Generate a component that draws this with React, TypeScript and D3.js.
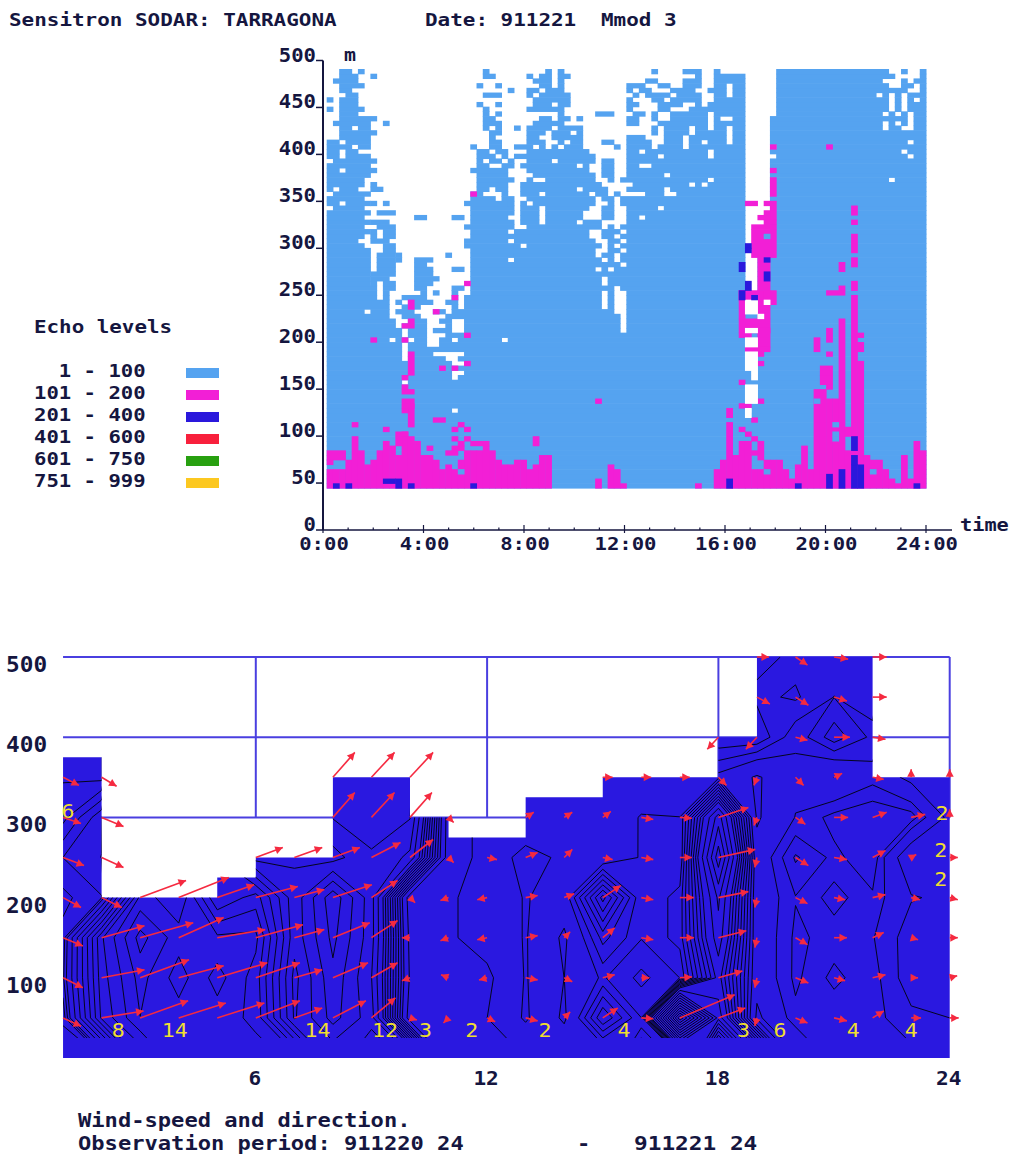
import React from 'react';
import * as d3 from 'd3';

// ---------- Echo data (SODAR range gates: gate k = 50 + 5k metres, column = 15 min) ----------
const lightRows: string[] = [
  "2-3,5,25,35,37,52,57-59,62,72-89,92,95",
  "2-4,7,25-26,32,34-35,37-38,59,62-66,72-90,95",
  "1-4,33-35,37,51-52,57-59,62-66,72-88,92,94-95",
  "2-5,24,27,34-35,37,48-50,53-54,57-59,62-63,65-66,72-89,92-93,95",
  "2-3,29,32-33,35-37,48,50-51,55-58,61-63,65-66,72-92,95",
  "3-4,25-27,32,34-38,49,51-54,56-59,62-63,65-66,72-87,89,91,93-95",
  "0,2-4,33-38,48,52-53,55-59,62-66,72-89,91,93,95",
  "2-4,24,27,33-35,37-38,48-49,53-56,59,61-66,72-89,91,93-95",
  "0,2-5,25,32-37,48,53-54,58-66,72-89,91,93-95",
  "2-4,25,27,37,43-45,49-50,52,55-60,62-66,72-88,90,92,94-95",
  "2-7,25-26,34-35,37-38,40,48-49,52,55-60,62,65-66,71-92,94-95",
  "1-6,9,25-27,33-37,48-49,53-60,62-66,71-88,90,92,94-95",
  "2-3,5-6,25,27,30,32-35,37-40,52,54-57,59-60,62-63,65-66,71-88,90-91,94-95",
  "2-7,26-27,32-34,36-38,40,52,54-57,59-63,65-66,71-95",
  "2-6,26,32-33,36-40,48-50,54-56,58-63,65-66,71-95",
  "0-1,3-6,26-27,32-34,37,39-40,44-45,48-51,54-56,58-59,61-63,65-66,71-92,94-95",
  "0-3,5-6,23,26-27,30-32,34,36,38-40,46,48-51,53-56,58-66,72-95",
  "0-1,3-4,24-25,27-28,32-41,48-49,51-60,62-66,71-91,93-95",
  "0-1,3-6,24-26,28,30-31,32-42,48-52,54-60,62-66,72-92,94-95",
  "1-7,24,26-27,29,32-35,37-42,44-45,48-66,71-95",
  "0-6,24-25,28-29,31-39,41,44-45,48-49,52-66,71-95",
  "0-1,3-7,23-28,32-41,44-45,48-66,71-95",
  "0-6,24-28,33-42,44-45,48-53,55-66,71-95",
  "0-5,24-29,32,35-42,45,47-60,62-66,71-89,91-95",
  "0-5,7,24-28,31-43,49-57,59,61-66,71-95",
  "0,2-4,7-8,24-25,27-28,31-39,41-44,48-53,55-66,71-95",
  "1-6,23-24,28,31-33,35-41,43-44,46,51-53,56-66,71-95",
  "0-5,23-26,28-29,32-42,44-45,47-66,71-95",
  "0-1,3-6,7,9,22-28,29,31,33-42,45,47-66,71-95",
  "1-5,23-29,31-33,35-41,44-45,48-52,54-66,71-95",
  "0-6,8-10,23-28,29,31-33,35-40,44-45,48-66,71-95",
  "0-5,14-15,20-21,23-28,31-33,35-40,44-45,48-49,51-66,71-95",
  "0-6,7-9,23-29,31-33,35-39,41-43,48-66,71-95",
  "0-5,8-10,22-29,32-40,41-43,45,47-66,71-95",
  "0-6,7,9-10,23-28,30-33,34-41,44-46,48-66,71-95",
  "0-5,7,9-10,23-41,44-45,47-66,71-95",
  "0-4,7-9,22-28,30-42,45-46,48-66,71-95",
  "0-5,9-10,22-29,30,32-43,45,47-66,71-95",
  "0-6,9-10,23-42,45-46,48-66,71-95",
  "0-6,8-10,11,19,23-29,30-42,44-45,47-66,71-95",
  "0-6,8-10,11,14-16,23-28,30-43,45,47-66,69-95",
  "0-6,8-10,14-15,23-46,48-66,69-95",
  "0-6,8-10,14-16,20-21,23-42,44,46-66,69-95",
  "0-6,7-10,14-16,23-44,45-66,69-95",
  "0-6,7-9,14-17,23-43,45-66,69-95",
  "0-6,7,9-10,14-16,23-43,45-66,69-95",
  "0-7,9-10,14-15,20-21,23-45,47-66,69-95",
  "0-7,9,15,17,20,23-43,45,48-66,69-95",
  "0-7,9,12-15,20,22-43,45,48-66,69-95",
  "0-9,11,13-16,19-20,22-43,45,48-66,69,71-95",
  "0-9,12-14,20,22-43,45,48-66,69-95",
  "0-5,7-9,11-13,17-18,20-45,48-66,69-95",
  "0-9,12-14,19-46,48-68,70-95",
  "0-10,13-15,18-19,22-46,48-95",
  "0-10,12-15,19,22-46,48-95",
  "0-11,13-15,17-19,22-46,48-66,69-95",
  "0-11,13-15,19-95",
  "0-9,11-12,14-15,18-19,21-27,29-66,69-95",
  "0-11,13-15,18-66,69-95",
  "0-11,13-66,69-95",
  "0-11,13-16,22-66,69-95",
  "0-11,13-18,21-66,69-95",
  "0-19,22-66,69-95",
  "0-66,69-95",
  "0-19,22-67,69-95",
  "0-19,21-67,69-95",
  "0-11,13-95",
  "0-66,69-95",
  "0-66,69-95",
  "0-66,69-95",
  "0-66,69-95",
  "0-95",
  "0-19,21-66,68-95",
];
const gateCount = 89;
const colCount = 96;

// Contiguous 101-200 echo depth from the lowest gate, per column
const pinkDepth = [
  4,4,4,6,11,8,5,6,8,10,9,7,12,11,10,7,7,6,4,5,4,6,8,8,8,9,8,6,5,5,6,6,4,5,7,7,
  0,0,0,0,0,0,0,2,0,5,4,1,0,0,0,0,0,0,0,0,0,0,0,1,0,0,4,6,14,7,10,10,4,4,6,6,6,4,2,5,9,4,
  21,21,19,19,36,8,41,20,7,6,6,4,2,1,7,2,10,8,
];
// Isolated 101-200 patches: [col from, col to, gate from, gate to]
const pinkPatches: number[][] = [
  [0,2,6,7],[0,0,5,5],[4,4,13,13],[9,9,12,12],[11,12,11,11],[11,11,9,10],[16,16,8,8],[19,20,7,7],[20,21,8,8],
  [20,20,10,10],[21,21,9,9],[22,22,10,10],[21,21,13,13],[20,20,12,12],[22,22,12,12],[23,25,9,9],[33,33,9,10],
  [17,18,14,14],[13,13,13,17],[12,12,16,16],[12,13,17,18],[12,12,21,21],[12,13,20,20],[13,13,24,28],[12,12,23,23],
  [7,7,31,31],[12,12,31,31],[12,13,34,34],[13,13,35,35],[13,13,38,39],[17,17,37,37],[20,20,40,40],[22,22,32,32],
  [18,18,25,25],[20,20,25,25],[22,22,26,26],[43,43,18,18],[23,23,62,62],[22,22,43,43],
  [64,64,15,16],[66,67,17,17],[69,69,18,18],[68,68,14,14],[66,66,12,12],[67,67,11,11],[68,68,10,10],[68,68,7,7],[69,69,6,9],
  [66,70,33,35],[69,70,30,33],[66,67,32,32],[67,70,29,29],[69,69,28,28],[69,69,26,26],[66,66,22,22],
  [66,66,36,41],[69,70,36,41],[70,71,39,41],[71,71,72,72],[80,80,72,72],[71,71,67,67],[71,71,62,65],[71,71,57,60],[67,68,60,60],[70,70,60,60],
  [70,70,57,58],[69,69,57,57],[70,71,56,56],[68,71,55,55],[68,71,49,54],[69,70,42,48],[66,68,40,41],
  [78,78,29,31],[80,80,31,33],[80,80,28,28],[79,80,24,25],[79,80,22,23],[80,80,21,21],[80,82,41,41],[82,82,42,42],[82,82,46,47],
  [84,84,58,59],[84,84,56,56],[84,84,50,53],[84,84,47,48],[84,84,42,43],[85,85,32,32],[85,85,29,30],[85,85,20,26],[83,83,11,12],
];
// Cells inside the pink that read as 1-100 again
const pinkGaps: number[][] = [[21,3],[70,3],[87,3],[78,18],[81,13],[81,10],[81,11],[70,53]];
// Missing echoes left inside the 101-200 column: [col from, col to, gate from, gate to]
const gapWhites: number[][] = [[67,68,37,39],[69,69,36,36],[70,70,39,39],[67,68,33,33],[67,68,30,31],[67,68,25,28],[68,68,23,24],[67,68,18,21],[67,67,15,16]];
// 201-400 echo: [col from, col to, gate from, gate to]
const darkPatches: number[][] = [
  [1,1,0,0],[3,3,0,0],[9,10,1,1],[11,11,0,1],[13,13,0,0],[23,23,0,0],[64,64,0,1],[75,75,0,0],[80,80,0,2],[82,82,0,3],
  [84,84,0,4],[84,84,5,6],[84,84,8,10],[85,85,0,4],[94,94,0,0],[67,67,51,51],[67,67,50,50],[70,70,48,48],[66,66,46,47],
  [70,70,44,45],[67,67,42,43],[66,66,40,41],[68,68,40,40],
];

const legendRows = ["  1 - 100", "101 - 200", "201 - 400", "401 - 600", "601 - 750", "751 - 999"];
const legendColors = ["#55a3f0", "#f21fd6", "#2a18dc", "#f8203c", "#28a010", "#fcc820"];
const echoTicks = d3.range(0, 501, 50);
const timeHours = d3.range(0, 25);
const timeLabels = [0, 4, 8, 12, 16, 20, 24];

// ---------- Wind data: [u, v] in m/s per hour 1..24, one list per height ----------
type W = number[] | null;
const _: W = null;
const wind500: W[] = [_,_,_,_,_,_,_,_,_,_,_,_,_,_,_,_,_,_,[4,0],[4,-2.7],[4.7,-0.7],[4.7,0],_,_];
const wind450: W[] = [_,_,_,_,_,_,_,_,_,_,_,_,_,_,_,_,_,_,[4.3,-2.3],[4.3,-2.7],[4.3,-1.3],[4.7,0],_,_];
const wind400: W[] = [_,_,_,_,_,_,_,_,_,_,_,_,_,_,_,_,_,[-3.7,-4],[-3.7,-4],[4,-1],[5.3,0],[4.3,-0.7],_,_];
const wind350: W[] = [[5.3,-2.7],[5,-3],_,_,_,_,_,[7.3,8.3],[7.7,8.3],[7.7,8.3],_,_,_,_,[3.3,0],[3.3,0],[3.3,0],[2.7,-2.7],[-1,-2.7],[2.7,-2.7],[2.7,1.3],[3.7,-0.7],[0,2.7],[0,2.7]];
const wind300: W[] = [[6,-2],[7.3,-3],_,_,_,_,_,[7.3,8.3],[7.7,8.3],[7.3,8.3],[1.7,-1.7],_,[2.7,1.7],[2.7,1.7],[2.7,2],[4,-0.7],[4,-0.3],[10,3.3],[-1,-2.7],[3.3,-2.3],[4.7,0],[4.7,1.7],[4.7,1],[0,2.7]];
const wind250: W[] = [[7,-2.7],[7.3,-3.3],_,_,_,[9,3.3],[9.3,3.3],[9,3.3],[9.7,5],[7.7,6],[1.7,-1.7],[3.3,-0.7],[4,1.7],[2.7,2.7],[3.3,-0.7],[4,-0.7],[4,0],[12.3,2.7],[-0.7,-3.3],[4.3,-2.7],[4.3,-0.7],[4.3,2.3],[1.7,1],[2.7,0]];
const wind200: W[] = [[6,-3.3],[6.7,-3.3],[15.3,5.7],[16.7,6.7],[12.3,4.3],[14,3.7],[10,2.7],[13,4.3],[8.7,5.7],[1.7,-1.7],[-2.7,-1],[-3.3,-0.7],[4,0.7],[3.3,1.3],[6,4],[4,-0.7],[4.7,0],[10,2],[-0.7,-3.3],[4,-2],[3.7,-0.7],[4.3,1],[3,-0.7],[2.7,-0.7]];
const wind150: W[] = [[6.6,-2.8],[14.3,4],[17.7,5],[15,6.7],[16,2.7],[15.7,4.3],[10,2.7],[12.3,5],[8.7,5.7],[-2.7,0],[-2.7,-1],[-3.3,-0.7],[4,0.7],[2,2],[4,3.3],[4,-0.7],[4.7,0],[9.3,2.3],[-0.7,-3.3],[4,-2.3],[4.3,0],[3.7,1.7],[2.3,-0.7],[2.7,0]];
const wind100: W[] = [[6.6,-3.3],[14.3,2.7],[16.3,6],[15,4],[16.7,5],[14.7,5],[9.3,2.7],[11.7,5],[8.7,5],[-2.7,-1],[-2.5,1],[-2.7,-0.7],[4,-0.7],[2.7,-1.3],[4,1],[2.7,0],[4,0.3],[8,2.3],[-0.7,-3.3],[4.3,-1.7],[3.7,-1],[4.3,1],[2.3,0],[2.5,0.7]];
const wind50: W[] = [[6,-2.8],[14,2.3],[16,5.7],[15.7,5],[15.7,5],[14.7,5.7],[9.3,3.3],[11,5.7],[8,6.7],[2.3,-0.7],[-1.7,-1.7],[2.7,-1.3],[4,-1],[2,2],[5,3.3],[4,-0.3],[18.3,7.7],[9,3.3],[-0.7,-2.7],[4,-1.7],[4.3,-1],[3.7,2.3],[3.3,0],[3,0]];
const windRows: W[][] = [wind500, wind450, wind400, wind350, wind300, wind250, wind200, wind150, wind100, wind50];
const windHeights = [500, 450, 400, 350, 300, 250, 200, 150, 100, 50];
// Speed just above the ground, as the contours run out below the lowest gate
const groundSpeed = [6,6.5,14,17,16.5,16.4,15.8,10,12.4,10.4,2.4,2.4,3,4,3,6,4,19.8,9.6,2.8,4.3,4.4,4.4,3.3];
// Highest valid height per hour span: [from, to, height]
const ceilings: number[][] = [[1,2,375],[2,5,200],[5,6,225],[6,8,250],[8,10,350],[10,11,300],[11,13,275],[13,15,325],[15,18,350],[18,19,400],[19,22,500],[22,24,350]];
const contourLevels = [1, 2, 3, 4, 4.5, 5, 5.5, 6, 6.5, 7, 7.5, 8, 9, 10, 11, 12, 13, 14, 15, 16, 17, 18, 19, 20, 21, 22];
const gridHeights = [300, 400, 500];
const gridHours = [6, 12, 18, 24];
const axisHeights = [100, 200, 300, 400, 500];
const labelTexts = ["8","14","14","12","3","2","2","4","3","6","4","4","6","2","2","2"];
const labelHours = [2.43,3.9,7.6,9.35,10.4,11.6,13.5,15.55,18.65,19.6,21.5,23,1.13,23.8,23.77,23.77];
const labelMetres = [26,26,26,26,26,26,26,26,26,26,26,26,299,297,251,214];

const FONT = "'DejaVu Sans Mono', monospace";
const INK = "#15163f";

function Txt({ x, y, s, cw, size = 18, anchor = 'start', fill = INK, weight = 700 }: any) {
  const w = s.length * cw;
  const left = anchor === 'middle' ? x - w / 2 : anchor === 'end' ? x - w : x;
  return (
    <text x={left} y={y} fontFamily={FONT} fontSize={size} fontWeight={weight} fill={fill}
      textLength={w} lengthAdjust="spacingAndGlyphs" style={{ whiteSpace: 'pre' }}>{s}</text>
  );
}

function parseRuns(s: string): number[][] {
  return s.split(',').map((p) => {
    const [a, b] = p.split('-').map(Number);
    return [a, b === undefined ? a : b];
  });
}

function EchoChart() {
  const col = d3.scaleBand<number>().domain(d3.range(colCount)).range([326.7, 926]);
  const gate = d3.scaleBand<number>().domain(d3.range(gateCount)).range([488, 69]);
  const time = d3.scaleLinear().domain([0, 24]).range([323, 926]);
  const hgt = d3.scaleLinear().domain([0, 500]).range([530, 60.5]);
  const cw = col.bandwidth();
  const rh = gate.bandwidth();
  const cell = (c0: number, c1: number, k0: number, k1: number, fill: string, key: string) => (
    <rect key={key} x={col(c0)} width={(c1 - c0 + 1) * cw + 0.5} y={gate(k1)} height={(k1 - k0 + 1) * rh + 0.6} fill={fill} />
  );
  const rects: React.ReactNode[] = [];
  for (let k = 0; k < gateCount; k++) {
    const t = gateCount - 1 - k;
    const row = t < lightRows.length ? lightRows[t] : "0-95";
    parseRuns(row).forEach(([a, b], i) => rects.push(cell(a, b, k, k, legendColors[0], `l${k}-${i}`)));
  }
  pinkDepth.forEach((n, c) => { if (n > 0) rects.push(cell(c, c, 0, n - 1, legendColors[1], `pd${c}`)); });
  pinkPatches.forEach(([a, b, k0, k1], i) => rects.push(cell(a, b, k0, k1, legendColors[1], `pp${i}`)));
  pinkGaps.forEach(([c, k], i) => rects.push(cell(c, c, k, k, legendColors[0], `pg${i}`)));
  gapWhites.forEach(([a, b, k0, k1], i) => rects.push(cell(a, b, k0, k1, '#fff', `gw${i}`)));
  darkPatches.forEach(([a, b, k0, k1], i) => rects.push(cell(a, b, k0, k1, legendColors[2], `dp${i}`)));
  return (
    <g>
      {rects}
      <line x1={time(0)} x2={time(0)} y1={hgt(500)} y2={hgt(0)} stroke={INK} strokeWidth={2} />
      <line x1={time(0)} x2={952} y1={hgt(0)} y2={hgt(0)} stroke={INK} strokeWidth={1.5} />
      {echoTicks.map((v) => (
        <g key={v}>
          <line x1={time(0) - 7} x2={time(0)} y1={hgt(v)} y2={hgt(v)} stroke={INK} strokeWidth={1.5} />
          <Txt x={316} y={hgt(v) + 1} s={String(v)} cw={12.4} size={19} anchor="end" />
        </g>
      ))}
      {timeHours.map((h) => (
        <line key={h} x1={time(h)} x2={time(h)} y1={hgt(0) - (h % 4 === 0 ? 5 : 2.5)} y2={hgt(0) + (h % 4 === 0 ? 3 : 0)} stroke={INK} strokeWidth={1.2} />
      ))}
      {timeLabels.map((h) => (
        <Txt key={h} x={time(h) + 1} y={550} s={`${h}:00`} cw={12.4} size={18} anchor="middle" />
      ))}
      <Txt x={344} y={61} s="m" cw={12} size={18} />
      <Txt x={960} y={531} s="time" cw={12.2} size={18} />
    </g>
  );
}

function WindChart() {
  const x = d3.scaleLinear().domain([0, 24]).range([24.5, 949.7]);
  const y = d3.scaleLinear().domain([0, 500]).range([1058, 657]);
  const arrowPx = 3;
  const poly = (floor: number) => {
    const pts: number[][] = [[x(1), y(floor)]];
    ceilings.forEach(([a, b, h]) => { pts.push([x(a), y(h)]); pts.push([x(b), y(h)]); });
    pts.push([x(24), y(floor)]);
    return 'M' + pts.map((p) => p.join(',')).join('L') + 'Z';
  };
  // Speed field: null nodes take the nearest valid speed below them
  const field: number[] = [];
  windRows.forEach((row, r) => {
    row.forEach((_w, c) => {
      let rr = r;
      while (windRows[rr][c] === null && rr < windRows.length - 1) rr++;
      const w = windRows[rr][c] as number[];
      field.push(Math.hypot(w[0], w[1]));
    });
  });
  groundSpeed.forEach((v) => field.push(v));
  const contours = d3.contours().size([24, 11]).thresholds(contourLevels)(field);
  const cx = (c: number) => x(c + 0.5);
  const cy = (r: number) => y(500 - 50 * (r - 0.5));
  const contourPath = (mp: any) => mp.coordinates.map((polyg: number[][][]) => polyg.map((ring) =>
    'M' + ring.map(([a, b]) => `${cx(a).toFixed(1)},${cy(b).toFixed(1)}`).join('L')).join('')).join('');
  return (
    <g>
      <defs>
        <clipPath id="contourClip"><path d={poly(25)} /></clipPath>
      </defs>
      {gridHeights.map((h) => (
        <line key={h} x1={x(1)} x2={x(24)} y1={y(h)} y2={y(h)} stroke="#4a3fe0" strokeWidth={2} />
      ))}
      {gridHours.map((h) => (
        <line key={h} x1={x(h)} x2={x(h)} y1={y(500)} y2={y(300)} stroke="#4a3fe0" strokeWidth={2} />
      ))}
      <path d={poly(0)} fill="#2a18e0" />
      <g clipPath="url(#contourClip)">
        {contours.map((c: any, i: number) => (
          <path key={i} d={contourPath(c)} fill="none" stroke="#05051e" strokeWidth={1} />
        ))}
      </g>
      {windRows.map((row, r) => row.map((w, c) => {
        if (!w) return null;
        const x0 = x(c + 1), y0 = y(windHeights[r]);
        const dx = w[0] * arrowPx, dy = -w[1] * arrowPx;
        const len = Math.hypot(dx, dy) || 1;
        const ux = dx / len, uy = dy / len;
        const x1 = x0 + dx, y1 = y0 + dy;
        const hl = 7.5, hw = 4;
        const b = [x1 - ux * hl, y1 - uy * hl];
        return (
          <g key={`${r}-${c}`}>
            <line x1={x0} y1={y0} x2={x1} y2={y1} stroke="#f52a40" strokeWidth={1.6} />
            <polygon points={`${x1},${y1} ${b[0] - uy * hw},${b[1] + ux * hw} ${b[0] + uy * hw},${b[1] - ux * hw}`} fill="#f52a40" />
          </g>
        );
      }))}
      {labelTexts.map((s, i) => (
        <Txt key={i} x={x(labelHours[i])} y={y(labelMetres[i])} s={s} cw={13} size={20} anchor="middle" fill="#f0de30" weight={400} />
      ))}
      {axisHeights.map((h) => (
        <Txt key={h} x={6} y={y(h) + 15} s={String(h)} cw={13.7} size={21} />
      ))}
      {gridHours.map((h) => (
        <Txt key={h} x={x(h) - 1} y={1085} s={String(h)} cw={12.7} size={20} anchor="middle" />
      ))}
    </g>
  );
}

export default function App() {
  return (
    <svg width={1012} height={1156} viewBox="0 0 1012 1156" style={{ position: 'absolute', left: 0, top: 0, background: '#fff' }}>
      <Txt x={9} y={26} s="Sensitron SODAR: TARRAGONA" cw={12.6} />
      <Txt x={425} y={26} s="Date: 911221" cw={12.6} />
      <Txt x={601} y={26} s="Mmod 3" cw={12.6} />
      <Txt x={34} y={333} s="Echo levels" cw={12.55} />
      {legendRows.map((s, i) => (
        <g key={s}>
          <Txt x={34} y={377 + i * 22} s={s} cw={12.4} />
          <rect x={186} y={368 + i * 22} width={33} height={10} fill={legendColors[i]} />
        </g>
      ))}
      <EchoChart />
      <WindChart />
      <Txt x={78} y={1127} s="Wind-speed and direction." cw={13.3} size={20} />
      <Txt x={78} y={1150} s="Observation period: 911220 24" cw={13.3} size={20} />
      <Txt x={577} y={1150} s="-" cw={13.3} size={20} />
      <Txt x={634} y={1150} s="911221 24" cw={13.7} size={20} />
    </svg>
  );
}
